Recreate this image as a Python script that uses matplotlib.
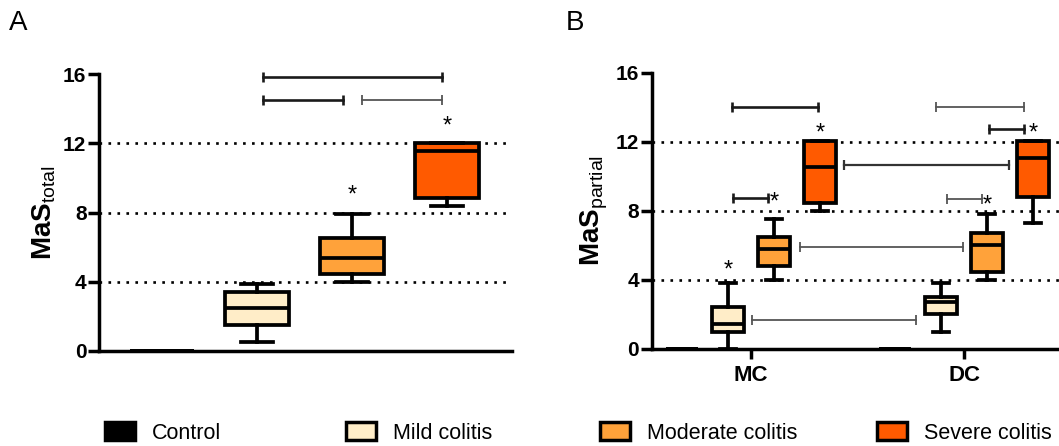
import matplotlib
matplotlib.use('Agg')
import matplotlib.pyplot as plt
from matplotlib.patches import Patch
from matplotlib.transforms import offset_copy

plt.rcParams['font.family'] = ['Liberation Sans', 'DejaVu Sans']
plt.rcParams['mathtext.fontset'] = 'custom'
plt.rcParams['mathtext.rm'] = 'Liberation Sans'
plt.rcParams['mathtext.bf'] = 'Liberation Sans:bold'
plt.rcParams['mathtext.it'] = 'Liberation Sans:italic'

# ---------------- data ----------------
groups = ['Control', 'Mild colitis', 'Moderate colitis', 'Severe colitis']
colors = ['#000000', '#FFEDC8', '#FFA23A', '#FF5A00']

# box statistics: whislo, q1, median, q3, whishi
total_stats = [
    [0.0, 0.0, 0.0, 0.0, 0.0],
    [0.5, 1.5, 2.5, 3.4, 3.85],
    [4.0, 4.45, 5.35, 6.55, 7.9],
    [8.4, 8.85, 11.55, 12.0, 12.0],
]
mc_stats = [
    [0.0, 0.0, 0.0, 0.0, 0.0],
    [0.0, 1.0, 1.45, 2.45, 3.8],
    [4.0, 4.8, 5.8, 6.5, 7.5],
    [8.0, 8.45, 10.55, 12.05, 12.05],
]
dc_stats = [
    [0.0, 0.0, 0.0, 0.0, 0.0],
    [1.0, 2.05, 2.75, 3.0, 3.8],
    [4.0, 4.45, 6.05, 6.7, 7.8],
    [7.3, 8.8, 11.05, 12.05, 12.05],
]
regions = ['MC', 'DC']

# significance brackets (x1, x2, y, style)
brackets_total = [
    (1.06, 1.91, 14.5, 'dark'),
    (2.10, 2.95, 14.5, 'light'),
    (1.06, 2.95, 15.8, 'dark'),
]
stars_total = [(2, 9.25), (3, 13.25)]  # (group index, y)

brackets_partial = [
    (-0.090, 0.316, 14.03, 'dark'),
    (0.866, 1.279, 14.03, 'light'),
    (1.116, 1.279, 12.76, 'dark'),
    (0.436, 1.209, 10.67, 'mid'),
    (-0.083, 0.080, 8.72, 'dark'),
    (0.917, 1.081, 8.69, 'light'),
    (0.230, 0.996, 5.89, 'light'),
    (0.006, 0.772, 1.68, 'light'),
]
stars_partial = [(0, 1, 4.86), (0, 2, 8.8), (0, 3, 12.78), (1, 2, 8.57), (1, 3, 12.78)]

y_ticks = [0, 4, 8, 12, 16]
grid_levels = [4, 8, 12]

# ---------------- styles ----------------
BOX_LW = 2.7
SPINE_LW = 2.5
bstyle = {'dark': ('#1a1a1a', 1.9), 'light': ('#555555', 1.3), 'mid': ('#333333', 1.6)}


def to_stats(rows):
    out = []
    for lo, q1, med, q3, hi in rows:
        out.append(dict(whislo=lo, q1=q1, med=med, q3=q3, whishi=hi, fliers=[]))
    return out


def draw_boxes(ax, rows, positions, width):
    res = ax.bxp(to_stats(rows), positions=positions, widths=width,
                 capwidths=width * 0.5, patch_artist=True, showfliers=False,
                 boxprops=dict(linewidth=BOX_LW, edgecolor='black'),
                 medianprops=dict(color='black', linewidth=BOX_LW),
                 whiskerprops=dict(color='black', linewidth=BOX_LW),
                 capprops=dict(color='black', linewidth=BOX_LW),
                 manage_ticks=False, zorder=3)
    for patch, c in zip(res['boxes'], colors):
        patch.set_facecolor(c)
    return res


def draw_bracket(ax, x1, x2, y, style):
    c, lw = bstyle[style]
    ax.plot([x1, x2], [y, y], color=c, lw=lw, marker='|', markersize=7,
            markeredgewidth=lw, zorder=4, clip_on=False)


def style_axis(ax, label):
    for s in ['top', 'right']:
        ax.spines[s].set_visible(False)
    for s in ['left', 'bottom']:
        ax.spines[s].set_linewidth(SPINE_LW)
    ax.set_ylim(0, 16)
    ax.set_yticks(y_ticks)
    ax.tick_params(axis='y', direction='out', length=8, width=SPINE_LW,
                   labelsize=15, pad=1)
    for t in ax.get_yticklabels():
        t.set_fontweight('bold')
    for g in grid_levels:
        ax.axhline(g, color='black', lw=1.9, linestyle=(0, (1, 2.4)), zorder=1)
    ax.set_ylabel(label, fontsize=20, labelpad=4)


fig = plt.figure(figsize=(10.59, 4.46), dpi=100)

# ---------------- Panel A ----------------
axA = fig.add_axes([99 / 1059, 1 - 351 / 446, 413 / 1059, 277 / 446])
posA = list(range(len(groups)))
draw_boxes(axA, total_stats, posA, 0.67)
axA.set_xlim(-0.663, 3.684)
axA.set_xticks([])
style_axis(axA, r'$\mathbf{MaS}_{\mathrm{total}}$')
for x1, x2, y, st in brackets_total:
    draw_bracket(axA, x1, x2, y, st)
starA_tr = offset_copy(axA.transData, fig=fig, y=-5, units='dots')
for gi, y in stars_total:
    axA.text(posA[gi], y, '*', ha='center', va='center', fontsize=17, zorder=5,
             transform=starA_tr)

# ---------------- Panel B ----------------
axB = fig.add_axes([651.7 / 1059, 1 - 349 / 446, 407.3 / 1059, 276.3 / 446])
offsets = [-1.5, -0.5, 0.5, 1.5]
step = 0.2157
for ri, rows in enumerate([mc_stats, dc_stats]):
    pos = [ri + o * step for o in offsets]
    draw_boxes(axB, rows, pos, 0.15)
axB.set_xlim(-0.466, 1.444)
axB.set_xticks(range(len(regions)))
axB.set_xticklabels(regions, fontsize=16, fontweight='bold')
axB.tick_params(axis='x', direction='out', length=7.5, width=SPINE_LW, pad=4)
style_axis(axB, r'$\mathbf{MaS}_{\mathrm{partial}}$')
for x1, x2, y, st in brackets_partial:
    draw_bracket(axB, x1, x2, y, st)
starB_tr = offset_copy(axB.transData, fig=fig, y=-5, units='dots')
for ri, gi, y in stars_partial:
    axB.text(ri + offsets[gi] * step, y, '*', ha='center', va='center',
             fontsize=17, zorder=5, transform=starB_tr)

# ---------------- panel labels ----------------
fig.text(9 / 1059, 1 - 23 / 446, 'A', fontsize=20, va='center', ha='left')
fig.text(566 / 1059, 1 - 23 / 446, 'B', fontsize=20, va='center', ha='left')

# ---------------- legend ----------------
leg_x = [105, 346, 600, 877]
for g, c, x in zip(groups, colors, leg_x):
    fig.legend(handles=[Patch(facecolor=c, edgecolor='black', linewidth=2.5)],
               labels=[g], loc='center left',
               bbox_to_anchor=(x / 1059, 1 - 433 / 446), frameon=False,
               fontsize=15.5, handlelength=1.4, handleheight=0.88,
               handletextpad=0.8, borderpad=0, borderaxespad=0)

fig.savefig('out.png', dpi=100)
